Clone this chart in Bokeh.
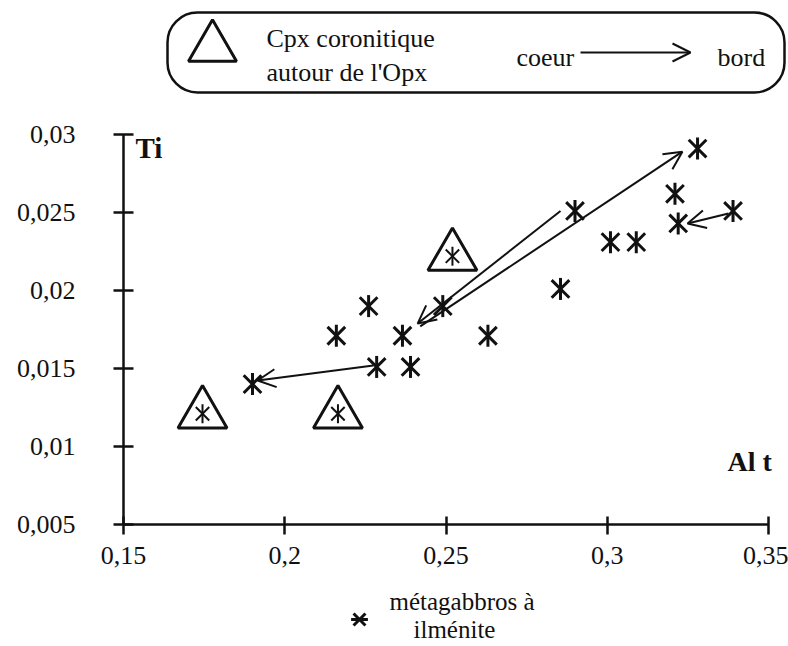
import math
from bokeh.plotting import figure
from bokeh.models import (Range1d, FixedTicker, Label, Arrow, OpenHead,
                          BoxAnnotation, Legend, LegendItem)
from bokeh.embed import file_html
from bokeh.resources import INLINE

# ---------------- data ----------------
# métagabbros à ilménite (stars)
star_al = [0.328, 0.321, 0.290, 0.339, 0.322, 0.301, 0.309, 0.2855,
           0.263, 0.226, 0.249, 0.216, 0.2365, 0.2285, 0.239, 0.190]
star_ti = [0.0291, 0.0262, 0.0251, 0.0251, 0.0243, 0.0231, 0.0231, 0.0201,
           0.0171, 0.0190, 0.0190, 0.0171, 0.0171, 0.0151, 0.0151, 0.0140]

# Cpx coronitique autour de l'Opx (triangles)
cpx_al = [0.1745, 0.2165, 0.252]
cpx_ti = [0.0121, 0.0121, 0.0222]

# coeur -> bord arrows
arrow_al_start = [0.2855, 0.2420, 0.3376, 0.2275]
arrow_ti_start = [0.0251, 0.0177, 0.02494, 0.01519]
arrow_al_end = [0.2412, 0.3233, 0.3249, 0.1916]
arrow_ti_end = [0.01788, 0.0289, 0.0243, 0.01423]

x_ticks = [0.15, 0.2, 0.25, 0.3, 0.35]
x_tick_labels = ["0,15", "0,2", "0,25", "0,3", "0,35"]
y_ticks = [0.005, 0.01, 0.015, 0.02, 0.025, 0.03]
y_tick_labels = ["0,005", "0,01", "0,015", "0,02", "0,025", "0,03"]

# ---------------- layout (pixel -> data, only for annotation placement) ----------------
W, H = 788, 646
X_PX0, X_PER_UNIT = 123, 3225.0     # canvas px of Al=0.15, px per unit
Y_PX0, Y_PER_UNIT = 134, 15600.0    # canvas px of Ti=0.03, px per unit


def ax(px):
    return 0.15 + (px - X_PX0) / X_PER_UNIT


def ay(py):
    return 0.03 - (py - Y_PX0) / Y_PER_UNIT


FONT = "'Liberation Serif', 'Times New Roman', serif"
INK = "#111111"

p = figure(width=W, height=H,
           x_range=Range1d(ax(0), ax(W)),
           y_range=Range1d(ay(H), ay(0)),
           output_backend="svg", toolbar_location=None,
           min_border=0)
p.outline_line_color = None
p.grid.visible = False
p.background_fill_color = "white"
p.border_fill_color = "white"

# axes drawn at fixed data locations (they take no side space)
p.xaxis.fixed_location = y_ticks[0]
p.yaxis.fixed_location = x_ticks[0]
p.xaxis.ticker = FixedTicker(ticks=x_ticks)
p.xaxis.bounds = (x_ticks[0], x_ticks[-1])
p.xaxis.major_label_overrides = dict(zip(x_ticks, x_tick_labels))
p.yaxis.ticker = FixedTicker(ticks=y_ticks)
p.yaxis.bounds = (y_ticks[0], y_ticks[-1])
p.yaxis.major_label_overrides = dict(zip(y_ticks, y_tick_labels))
for axis in (p.xaxis, p.yaxis):
    axis.axis_line_width = 2.5
    axis.axis_line_color = INK
    axis.major_tick_line_width = 2.5
    axis.major_tick_line_color = INK
    axis.minor_tick_line_color = None
    axis.major_label_text_font = FONT
    axis.major_label_text_font_size = "26px"
    axis.major_label_text_color = INK
p.xaxis.major_tick_in = 8
p.xaxis.major_tick_out = 10
p.xaxis.major_label_standoff = 12
p.yaxis.major_tick_in = 10
p.yaxis.major_tick_out = 10
p.yaxis.major_label_standoff = 38

# arrows (coeur -> bord)
for xs, ys, xe, ye in zip(arrow_al_start, arrow_ti_start, arrow_al_end, arrow_ti_end):
    p.add_layout(Arrow(x_start=xs, y_start=ys, x_end=xe, y_end=ye,
                       line_width=2, line_color=INK,
                       end=OpenHead(size=18, line_width=2, line_color=INK)))

# stars: X plus a vertical bar
r_x = p.scatter(star_al, star_ti, marker="x", size=25, line_width=3, line_color=INK)
r_v = p.scatter(star_al, star_ti, marker="dash", angle=math.pi / 2, size=22,
                line_width=3, line_color=INK)

# triangles with small stars inside
p.scatter(cpx_al, cpx_ti, marker="triangle", size=49, line_width=3,
          line_color=INK, fill_color=None)
p.scatter(cpx_al, cpx_ti, marker="x", size=19, line_width=2, line_color=INK)
p.scatter(cpx_al, cpx_ti, marker="dash", angle=math.pi / 2, size=19,
          line_width=2, line_color=INK)

# axis titles
p.add_layout(Label(x=ax(135), y=ay(147), text="Ti", text_font=FONT,
                   text_font_size="29px", text_font_style="bold",
                   text_color=INK, text_baseline="alphabetic"))
p.add_layout(Label(x=ax(727), y=ay(461), text="Al t", text_font=FONT,
                   text_font_size="28px", text_font_style="bold",
                   text_color=INK, text_baseline="alphabetic"))

# ---------------- top legend box ----------------
p.add_layout(BoxAnnotation(left=ax(167), right=ax(784), top=ay(12), bottom=ay(92),
                           border_radius=30, fill_alpha=0, line_color=INK,
                           line_width=2.5, line_alpha=1))
p.scatter([ax(212)], [ay(47)], marker="triangle", size=48, line_width=3,
          line_color=INK, fill_color=None)
for txt, xp, yp in [("Cpx coronitique", 266, 38), ("autour de l'Opx", 266, 72),
                    ("coeur", 516, 57), ("bord", 717, 57)]:
    p.add_layout(Label(x=ax(xp), y=ay(yp), text=txt, text_font=FONT,
                       text_font_size="26px", text_color=INK,
                       text_baseline="alphabetic"))
p.add_layout(Arrow(x_start=ax(580), y_start=ay(52), x_end=ax(690), y_end=ay(52),
                   line_width=2, line_color=INK,
                   end=OpenHead(size=18, line_width=2, line_color=INK)))

# ---------------- bottom legend ----------------
legend = Legend(items=[LegendItem(label="", renderers=[r_x, r_v])],
                location=(358 - 20, H - (620 + 20)),
                glyph_width=42, glyph_height=42, padding=0, margin=0,
                label_standoff=0, spacing=0,
                border_line_alpha=0, background_fill_alpha=0)
p.add_layout(legend)
for txt, xp, yp in [("métagabbros à", 389, 601), ("ilménite", 413, 629)]:
    p.add_layout(Label(x=ax(xp), y=ay(yp), text=txt, text_font=FONT,
                       text_font_size="25px", text_color=INK,
                       text_baseline="alphabetic"))

open("out.html", "w").write(file_html(p, INLINE))
